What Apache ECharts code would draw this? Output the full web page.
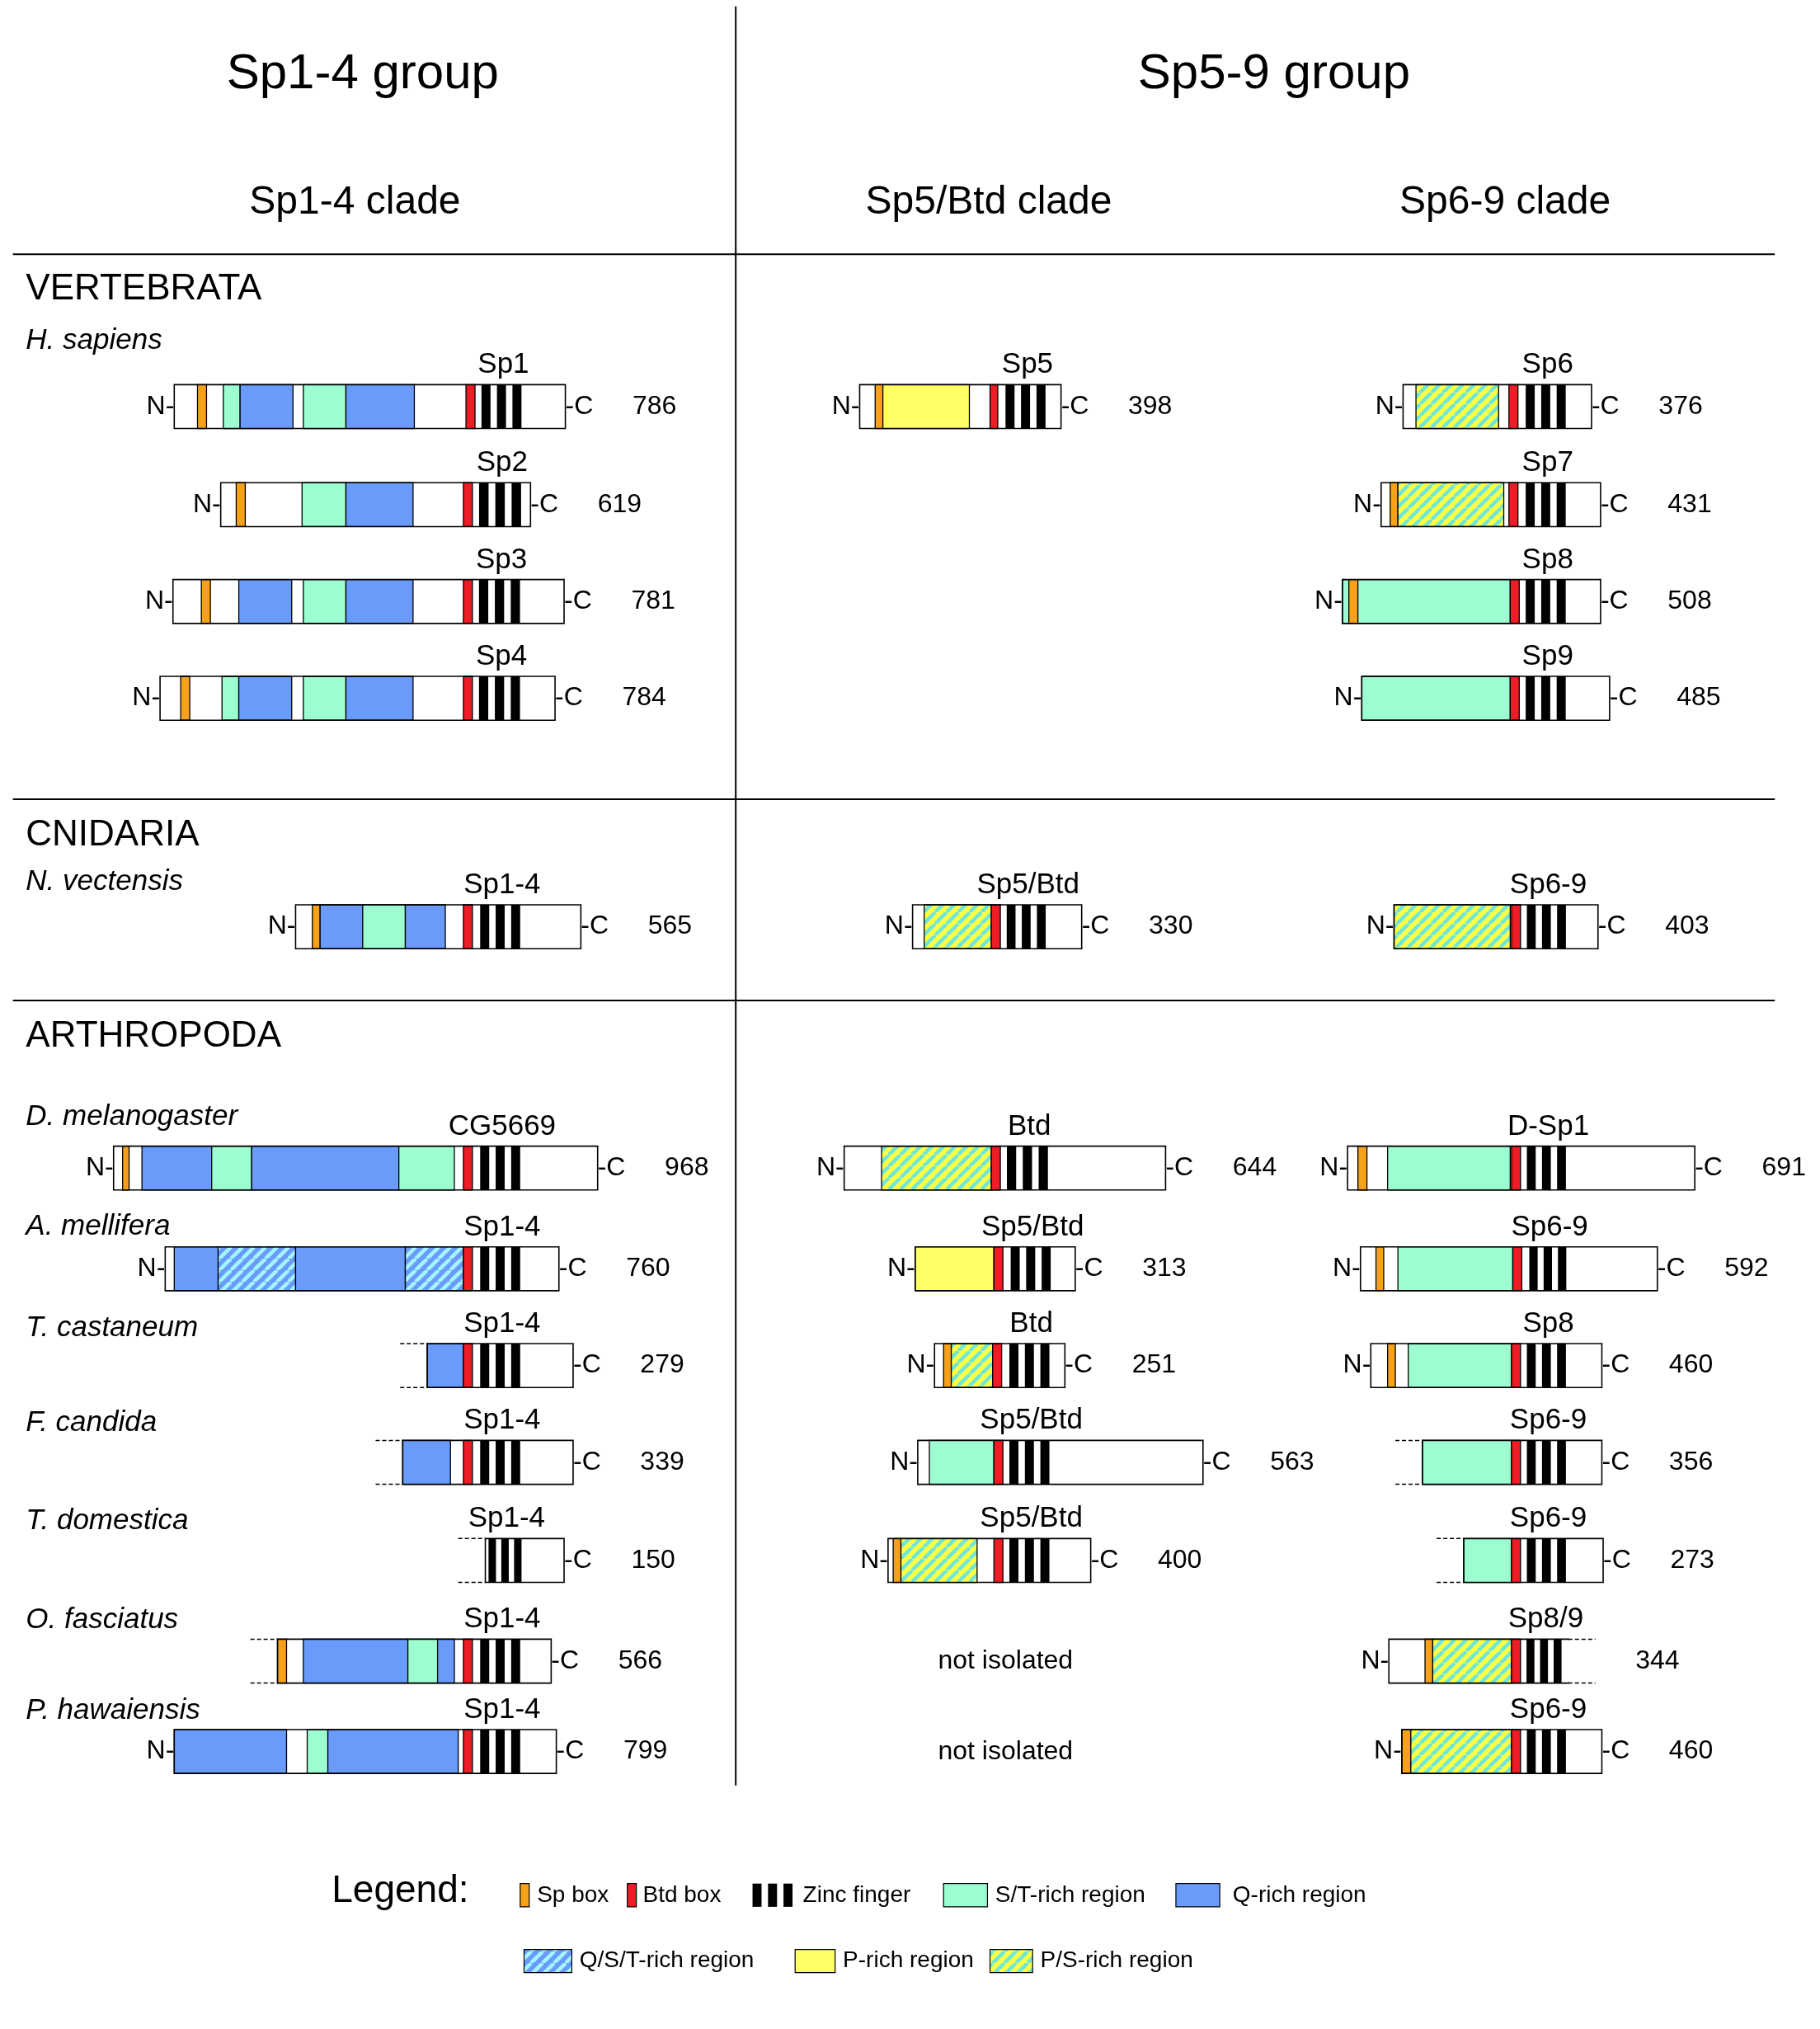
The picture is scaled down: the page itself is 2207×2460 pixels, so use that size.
<!DOCTYPE html>
<html><head><meta charset="utf-8">
<script src="https://cdn.jsdelivr.net/npm/echarts@6/dist/echarts.min.js"></script>
<style>html,body{margin:0;background:#fff}#c{width:2207px;height:2460px}</style>
</head><body><div id="c"></div>
<script>
// layout units are those of a 1410 x 1572 sketch, scaled to the page
var W = 1410, H = 1572, S = 2207 / W;
var FONT = '"Liberation Sans", Arial, sans-serif';

// proteins
var protLabel = ['Sp1','Sp2','Sp3','Sp4','Sp5','Sp6','Sp7','Sp8','Sp9',
  'Sp1-4','Sp5/Btd','Sp6-9',
  'CG5669','Btd','D-Sp1',
  'Sp1-4','Sp5/Btd','Sp6-9',
  'Sp1-4','Btd','Sp8',
  'Sp1-4','Sp5/Btd','Sp6-9',
  'Sp1-4','Sp5/Btd','Sp6-9',
  'Sp1-4','Sp8/9',
  'Sp1-4','Sp6-9'];
var protLen = [786,619,781,784,398,376,431,508,485, 565,330,403, 968,644,691,
  760,313,592, 279,251,460, 339,563,356, 150,400,273, 566,344, 799,460];
var protY = [315,391,466,541,315,315,391,466,541, 718,718,718, 905,905,905,
  983,983,983, 1058,1058,1058, 1133,1133,1133, 1209,1209,1209, 1287,1287, 1357,1357];
var protX0 = [135,171,134,124,666,1087,1070,1040,1055, 229,707,1080, 88,654,1044,
  128,709,1054, 331,724,1062, 312,711,1102, 376,688,1134, 215,1076, 135,1086];
var protX1 = [438,411,437,430,822,1233,1240,1240,1247, 450,838,1238, 463,903,1313,
  433,833,1284, 444,825,1241, 444,932,1241, 437,845,1242, 427,1215, 431,1241];
// 'L' = truncated at N end, 'R' = truncated at C end
var protTrunc = ['','','','','','','','','', '','','', '','','',
  '','','', 'L','','', 'L','','L', 'L','','L', 'L','R', '',''];
var protDomains = [
  [['sp',153,160],['st',173,186],['q',186,227],['st',235,268],['q',268,321],['btd',361,368],['zf',370,410]],
  [['sp',183,190],['st',234,268],['q',268,320],['btd',359,366],['zf',368,410]],
  [['sp',156,163],['q',185,226],['st',235,268],['q',268,320],['btd',359,366],['zf',368,409]],
  [['sp',140,147],['st',172,185],['q',185,226],['st',235,268],['q',268,320],['btd',359,366],['zf',368,409]],
  [['sp',678,684],['p',684,751],['btd',767,773],['zf',776,816]],
  [['ps',1097,1161],['btd',1169,1176],['zf',1179,1219]],
  [['sp',1077,1083],['ps',1083,1165],['btd',1169,1176],['zf',1179,1219]],
  [['st',1040,1045],['sp',1045,1052],['st',1052,1170],['btd',1170,1177],['zf',1179,1219]],
  [['st',1055,1170],['btd',1170,1177],['zf',1179,1219]],
  [['sp',242,248],['q',248,281],['st',281,314],['q',314,345],['btd',359,366],['zf',369,409]],
  [['ps',716,768],['btd',768,775],['zf',777,816]],
  [['ps',1080,1170],['btd',1171,1178],['zf',1180,1219]],
  [['sp',95,100],['q',110,164],['st',164,195],['q',195,309],['st',309,352],['btd',359,366],['zf',369,409]],
  [['ps',683,768],['btd',768,775],['zf',777,818]],
  [['sp',1052,1059],['st',1075,1170],['btd',1171,1178],['zf',1180,1219]],
  [['q',135,169],['qst',169,229],['q',229,314],['qst',314,359],['btd',359,366],['zf',369,409]],
  [['p',709,770],['btd',770,777],['zf',780,820]],
  [['sp',1066,1072],['st',1083,1172],['btd',1172,1179],['zf',1182,1219]],
  [['q',331,359],['btd',359,366],['zf',369,409]],
  [['sp',731,737],['ps',737,769],['btd',769,776],['zf',779,819]],
  [['sp',1075,1081],['st',1091,1171],['btd',1171,1178],['zf',1180,1219]],
  [['q',312,349],['btd',359,366],['zf',369,409]],
  [['st',720,770],['btd',770,777],['zf',779,819]],
  [['st',1102,1171],['btd',1171,1178],['zf',1180,1219]],
  [['zf',376,409]],
  [['sp',692,698],['ps',698,757],['btd',770,777],['zf',779,819]],
  [['st',1134,1171],['btd',1171,1178],['zf',1180,1219]],
  [['sp',215,222],['q',235,316],['st',316,339],['q',339,352],['btd',359,366],['zf',369,409]],
  [['sp',1104,1110],['ps',1110,1171],['btd',1171,1178],['zf',1180,1215]],
  [['q',135,222],['st',238,254],['q',254,355],['btd',359,366],['zf',369,409]],
  [['sp',1086,1093],['ps',1093,1171],['btd',1171,1178],['zf',1180,1219]]
];

var sectionLabels = ['VERTEBRATA','CNIDARIA','ARTHROPODA'];
var sectionY = [224,647,803];
var speciesLabels = ['H. sapiens','N. vectensis','D. melanogaster','A. mellifera','T. castaneum',
  'F. candida','T. domestica','O. fasciatus','P. hawaiensis'];
var speciesY = [264,683,865,950,1029,1102,1178,1255,1325];

function stripes(a, b) {
  var c = document.createElement('canvas'), s = 14;
  c.width = s; c.height = s;
  var g = c.getContext('2d');
  g.fillStyle = a; g.fillRect(0, 0, s, s);
  g.strokeStyle = b; g.lineWidth = 4.5;
  for (var k = -1; k <= 1; k++) {
    g.beginPath(); g.moveTo(k * s, s); g.lineTo(k * s + s, 0); g.stroke();
  }
  return { image: c, repeat: 'repeat' };
}
var fills = {
  sp: '#f7a11a', btd: '#ee1c24', st: '#9cfdd0', q: '#6a9bfa', p: '#ffff66',
  qst: stripes('#6a9bfa', '#a5f5ff'), ps: stripes('#ffff44', '#6fe6d8')
};

function zfBars(x0, x1, y0, y1, api) {
  var out = [], k = (x1 - x0) / 40;
  for (var i = 0; i < 3; i++) {
    var a = api.coord([x0 + (3 + 12 * i) * k, y0]), b = api.coord([x0 + (10 + 12 * i) * k, y1]);
    out.push({ type: 'rect', shape: { x: a[0], y: a[1], width: b[0] - a[0], height: b[1] - a[1] }, style: { fill: '#000' } });
  }
  return out;
}

function renderProtein(params, api) {
  var i = api.value(0), y = protY[i], h = 34;
  var y0 = y - h / 2, y1 = y + h / 2;
  var tl = api.coord([protX0[i], y0]), br = api.coord([protX1[i], y1]);
  var kids = [{ type: 'rect', shape: { x: tl[0], y: tl[1], width: br[0] - tl[0], height: br[1] - tl[1] }, style: { fill: '#fff' } }];
  var zfc = 0;
  protDomains[i].forEach(function (d) {
    if (d[0] === 'zf') { kids = kids.concat(zfBars(d[1], d[2], y0, y1, api)); zfc = (d[1] + d[2]) / 2; return; }
    var p = api.coord([d[1], y0]), q = api.coord([d[2], y1]);
    kids.push({ type: 'rect', shape: { x: p[0], y: p[1], width: q[0] - p[0], height: q[1] - p[1] },
      style: { fill: fills[d[0]], stroke: '#000', lineWidth: 1.3 } });
  });
  var tr = protTrunc[i];
  kids.push({ type: 'rect', shape: { x: tl[0], y: tl[1], width: br[0] - tl[0], height: br[1] - tl[1] },
    style: { fill: null, stroke: '#000', lineWidth: 1.6 } });
  if (tr === 'R') {
    // open right side: cover the right edge, add dashes
    kids.push({ type: 'line', shape: { x1: br[0], y1: tl[1] + 1, x2: br[0], y2: br[1] - 1 }, style: { stroke: '#fff', lineWidth: 3 } });
  }
  var dl = 21 * S;
  if (tr === 'L') {
    kids.push({ type: 'line', shape: { x1: tl[0] - dl, y1: tl[1], x2: tl[0], y2: tl[1] }, style: { stroke: '#000', lineWidth: 1.5, lineDash: [5, 3] } });
    kids.push({ type: 'line', shape: { x1: tl[0] - dl, y1: br[1], x2: tl[0], y2: br[1] }, style: { stroke: '#000', lineWidth: 1.5, lineDash: [5, 3] } });
  } else {
    kids.push({ type: 'text', x: tl[0], y: (tl[1] + br[1]) / 2, style: { text: 'N-', font: '32px ' + FONT, fill: '#000', align: 'right', verticalAlign: 'middle' } });
  }
  if (tr === 'R') {
    kids.push({ type: 'line', shape: { x1: br[0], y1: tl[1], x2: br[0] + dl, y2: tl[1] }, style: { stroke: '#000', lineWidth: 1.5, lineDash: [5, 3] } });
    kids.push({ type: 'line', shape: { x1: br[0], y1: br[1], x2: br[0] + dl, y2: br[1] }, style: { stroke: '#000', lineWidth: 1.5, lineDash: [5, 3] } });
  } else {
    kids.push({ type: 'text', x: br[0], y: (tl[1] + br[1]) / 2, style: { text: '-C', font: '32px ' + FONT, fill: '#000', align: 'left', verticalAlign: 'middle' } });
  }
  var lc = api.coord([zfc, y0 - 4]);
  kids.push({ type: 'text', x: lc[0], y: lc[1], style: { text: protLabel[i], font: '35px ' + FONT, fill: '#000', align: 'center', verticalAlign: 'bottom' } });
  var nc = api.coord([protX1[i] + 52, y]);
  kids.push({ type: 'text', x: nc[0], y: nc[1], style: { text: String(protLen[i]), font: '500 32px ' + FONT, fill: '#000', align: 'left', verticalAlign: 'middle' } });
  return { type: 'group', children: kids };
}

function px(v) { return v * S; }
function txt(t, x, y, size, opt) {
  opt = opt || {};
  return { type: 'text', x: px(x), y: px(y), style: { text: t, font: (opt.italic ? 'italic ' : '') + (opt.weight || '') + ' ' + size + 'px ' + FONT,
    fill: '#000', align: opt.align || 'left', verticalAlign: 'middle' } };
}
function hline(x1, x2, y) { return { type: 'line', shape: { x1: px(x1), y1: px(y), x2: px(x2), y2: px(y) }, style: { stroke: '#000', lineWidth: 2 } }; }

var gr = [
  txt('Sp1-4 group', 281, 58, 60, { align: 'center' }),
  txt('Sp5-9 group', 987, 58, 60, { align: 'center' }),
  txt('Sp1-4 clade', 275, 157, 48, { align: 'center' }),
  txt('Sp5/Btd clade', 766, 157, 48, { align: 'center' }),
  txt('Sp6-9 clade', 1166, 157, 48, { align: 'center' }),
  { type: 'line', shape: { x1: px(570), y1: px(5), x2: px(570), y2: px(1383) }, style: { stroke: '#000', lineWidth: 2 } },
  hline(10, 1375, 197), hline(10, 1375, 619), hline(10, 1375, 775),
  txt('not isolated', 779, 1287, 32, { align: 'center' }),
  txt('not isolated', 779, 1357, 32, { align: 'center' }),
  txt('Legend:', 257, 1465, 46)
];
sectionLabels.forEach(function (s, i) { gr.push(txt(s, 20, sectionY[i], 44)); });
speciesLabels.forEach(function (s, i) { gr.push(txt(s, 20, speciesY[i], 35, { italic: true })); });

// legend
function sw(x, w, y, fill) {
  return { type: 'rect', shape: { x: px(x), y: px(y - 9), width: px(w), height: px(18) }, style: { fill: fill, stroke: '#000', lineWidth: 1.2 } };
}
gr.push(sw(403, 7, 1468, fills.sp), txt('Sp box', 416, 1468, 28));
gr.push(sw(486, 7, 1468, fills.btd), txt('Btd box', 498, 1468, 28));
[583, 595, 607].forEach(function (x) { gr.push({ type: 'rect', shape: { x: px(x), y: px(1459), width: px(7), height: px(18) }, style: { fill: '#000' } }); });
gr.push(txt('Zinc finger', 622, 1468, 28));
gr.push(sw(731, 34, 1468, fills.st), txt('S/T-rich region', 771, 1468, 28));
gr.push(sw(911, 34, 1468, fills.q), txt('Q-rich region', 955, 1468, 28));
gr.push(sw(406, 37, 1519, fills.qst), txt('Q/S/T-rich region', 449, 1519, 28));
gr.push(sw(616, 31, 1519, fills.p), txt('P-rich region', 653, 1519, 28));
gr.push(sw(767, 33, 1519, fills.ps), txt('P/S-rich region', 806, 1519, 28));

var chart = echarts.init(document.getElementById('c'));
chart.setOption({
  animation: false,
  backgroundColor: '#fff',
  grid: { left: 0, right: 0, top: 0, bottom: 0 },
  xAxis: { type: 'value', min: 0, max: W, show: false },
  yAxis: { type: 'value', min: 0, max: H, inverse: true, show: false },
  graphic: gr,
  series: [{
    type: 'custom',
    renderItem: renderProtein,
    data: protLabel.map(function (_, i) { return [i, protY[i]]; }),
    encode: { x: -1, y: 1 },
    clip: false
  }]
});
</script></body></html>
